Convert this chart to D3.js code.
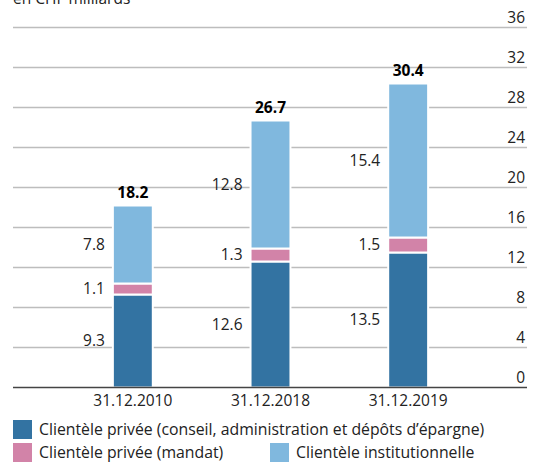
<!DOCTYPE html>
<html>
<head>
<meta charset="utf-8">
<script src="https://cdn.jsdelivr.net/npm/d3@7"></script>
<style>
  body { margin: 0; background: #fff; }
  svg { display: block; font-family: "Open Sans", "Noto Sans", sans-serif; }
</style>
</head>
<body>
<svg width="544" height="465"></svg>
<script>
var dates = ["31.12.2010", "31.12.2018", "31.12.2019"];
var priveeConseil = [9.3, 12.6, 13.5];
var priveeMandat = [1.1, 1.3, 1.5];
var institutionnelle = [7.8, 12.8, 15.4];
var totals = [18.2, 26.7, 30.4];
var yTicks = [0, 4, 8, 12, 16, 20, 24, 28, 32, 36];
var seriesNames = ["Clientèle privée (conseil, administration et dépôts d’épargne)",
    "Clientèle privée (mandat)",
    "Clientèle institutionnelle"];
var colors = ["#3373a2", "#d283a8", "#80b8de"];

var svg = d3.select("svg"),
    width = +svg.attr("width"),
    height = +svg.attr("height");

var left = 13, right = 527;

var y = d3.scaleLinear().domain([0, 36]).range([387.5, 27.5]);
var x = d3.scaleBand().domain(dates).range([64, 477]).paddingInner(0.71).paddingOuter(0.355);

// title (cut off at the top, as in the original)
svg.append("text")
    .attr("x", left)
    .attr("y", 4)
    .attr("font-size", 15.5)
    .attr("fill", "#222")
    .text("en CHF milliards");

// grid lines
svg.append("g")
    .selectAll("line")
    .data(yTicks.filter(d => d > 0))
    .enter().append("line")
    .attr("x1", left)
    .attr("x2", right)
    .attr("y1", d => y(d))
    .attr("y2", d => y(d))
    .attr("stroke", "#bdbdbd")
    .attr("stroke-width", 1.5);

// tick labels on the right
svg.append("g")
    .selectAll("text")
    .data(yTicks)
    .enter().append("text")
    .attr("x", right - 2)
    .attr("y", d => y(d) - 5)
    .attr("text-anchor", "end")
    .attr("font-size", 15.5)
    .attr("fill", "#222")
    .text(d => d);

// stacked bars
var rows = dates.map((d, i) => ({ date: d, s0: priveeConseil[i], s1: priveeMandat[i], s2: institutionnelle[i] }));
var stack = d3.stack().keys(["s0", "s1", "s2"])(rows);

var layers = svg.append("g")
    .selectAll("g")
    .data(stack)
    .enter().append("g")
    .attr("fill", (d, i) => colors[i]);

layers.selectAll("rect")
    .data(d => d)
    .enter().append("rect")
    .attr("x", d => x(d.data.date))
    .attr("width", x.bandwidth())
    .attr("y", d => y(d[1]))
    .attr("height", d => y(d[0]) - y(d[1]))
    .attr("stroke", "#fff")
    .attr("stroke-width", 2);

// segment value labels, left of the bar
layers.selectAll("text")
    .data(d => d.map(v => ({ v: v, key: d.key })))
    .enter().append("text")
    .attr("x", d => x(d.v.data.date) - 8)
    .attr("y", d => y((d.v[0] + d.v[1]) / 2) + 5)
    .attr("text-anchor", "end")
    .attr("font-size", 15.5)
    .attr("fill", "#222")
    .text(d => d3.format(".1f")(d.v.data[d.key]));

// totals
svg.append("g")
    .selectAll("text")
    .data(dates)
    .enter().append("text")
    .attr("x", d => x(d) + x.bandwidth() / 2)
    .attr("y", (d, i) => y(totals[i]) - 8)
    .attr("text-anchor", "middle")
    .attr("font-size", 15.5)
    .attr("font-weight", "bold")
    .attr("fill", "#000")
    .text((d, i) => d3.format(".1f")(totals[i]));

// zero line
svg.append("line")
    .attr("x1", left)
    .attr("x2", right)
    .attr("y1", y(0))
    .attr("y2", y(0))
    .attr("stroke", "#444")
    .attr("stroke-width", 1.5);

// category labels
svg.append("g")
    .selectAll("text")
    .data(dates)
    .enter().append("text")
    .attr("x", d => x(d) + x.bandwidth() / 2)
    .attr("y", 406)
    .attr("text-anchor", "middle")
    .attr("font-size", 15.5)
    .attr("fill", "#222")
    .text(d => d);

// legend
var legendPos = [[13, 420], [13, 443], [270, 443]];
var legend = svg.append("g")
    .selectAll("g")
    .data(seriesNames)
    .enter().append("g")
    .attr("transform", (d, i) => "translate(" + legendPos[i][0] + "," + legendPos[i][1] + ")");

legend.append("rect")
    .attr("width", 19)
    .attr("height", 19)
    .attr("fill", (d, i) => colors[i]);

legend.append("text")
    .attr("x", 26)
    .attr("y", 15)
    .attr("font-size", 15.8)
    .attr("fill", "#222")
    .text(d => d);
</script>
</body>
</html>
